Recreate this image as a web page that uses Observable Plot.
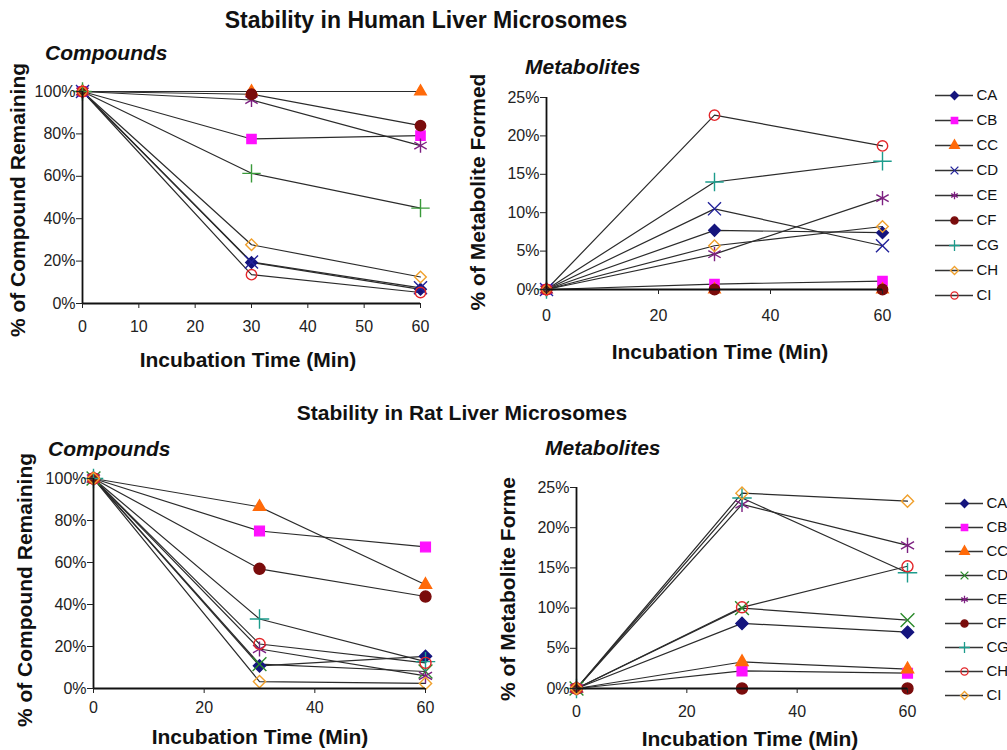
<!DOCTYPE html>
<html><head><meta charset="utf-8">
<script src="https://cdn.jsdelivr.net/npm/d3@7"></script>
<script src="https://cdn.jsdelivr.net/npm/@observablehq/plot@0.6"></script>
<style>
body{margin:0;background:#fff;overflow:hidden;}
#fig{position:relative;width:1007px;height:750px;overflow:hidden;font-family:"Liberation Sans",Arial,sans-serif;color:#111;}
.t{position:absolute;white-space:nowrap;transform:translate(-50%,-50%);font-weight:bold;}
.l{position:absolute;white-space:nowrap;transform:translate(0,-50%);font-weight:bold;font-style:italic;}
.r{position:absolute;white-space:nowrap;transform:translate(-50%,-50%) rotate(-90deg);font-weight:bold;}
</style></head><body><div id="fig"></div>
<script>
// ---------- data ----------
const series = ["CA","CB","CC","CD","CE","CF","CG","CH","CI"];
const times = [0, 30, 60];

// Human liver microsomes: % of compound remaining
const humanCmp0  = [100, 100, 100, 100, 100, 100, 100, 100, 100];
const humanCmp30 = [19.3, 77.6, 100, 19.6, 96, 98.7, 61.4, 27.7, 13.6];
const humanCmp60 = [6.7, 79.2, 100, 7.4, 74.5, 83.9, 45, 12.5, 5.2];
// Human liver microsomes: % of metabolite formed
const humanMet0  = [0, 0, 0, 0, 0, 0, 0, 0, 0];
const humanMet30 = [7.7, 0.7, 0, 10.5, 4.6, 0, 14.0, 5.7, 22.7];
const humanMet60 = [7.4, 1.1, 0, 5.7, 11.9, 0, 16.7, 8.2, 18.7];
// Rat liver microsomes: % of compound remaining
const ratCmp0  = [100, 100, 100, 100, 100, 100, 100, 100, 100];
const ratCmp30 = [10.8, 75, 86.5, 11.6, 18.8, 57, 33.1, 21.2, 3.3];
const ratCmp60 = [15.3, 67.4, 49.4, 8.1, 6, 43.8, 12.8, 12.2, 2.4];
// Rat liver microsomes: % of metabolite formed
const ratMet0  = [0, 0, 0, 0, 0, 0, 0, 0, 0];
const ratMet30 = [8.1, 2.2, 3.3, 10.0, 22.9, 0, 23.7, 10.1, 24.3];
const ratMet60 = [7.0, 1.9, 2.4, 8.5, 17.8, 0, 14.4, 15.2, 23.3];

const xTicksTL = [0, 10, 20, 30, 40, 50, 60];
const xTicks = [0, 20, 40, 60];
const yTicksCmp = [0, 20, 40, 60, 80, 100];
const yTicksMet = [0, 5, 10, 15, 20, 25];

// marker styles
const humanSymbols = ["diamond2","square","triangle","times","asterisk","circle","plus","diamond2","circle"];
const ratSymbols   = ["diamond2","square","triangle","times","asterisk","circle","plus","circle","diamond2"];
const humanFilled  = [true, true, true, false, false, true, false, false, false];
const ratFilled    = [true, true, true, false, false, true, false, false, false];
const humanColors  = ["#15157e","#ff10ff","#ff6a0a","#22229a","#7d2081","#7a0c0c","#1c9c8c","#f0a02c","#e3262a"];
const humanCmpColors = ["#15157e","#ff10ff","#ff6a0a","#22229a","#7d2081","#7a0c0c","#3a9a3a","#f0a02c","#e3262a"];
const ratColors    = ["#15157e","#ff10ff","#ff6a0a","#2b8a2b","#7d2081","#7a0c0c","#1c9c8c","#e3262a","#f0a02c"];
const symbolScale = {diamond2: 1, square: 1, triangle: 0.82, times: 1.15, asterisk: 1.3, circle: 1, plus: 1.15};

// ---------- drawing ----------
const fig = document.getElementById("fig");

function place(el, left, top) {
  el.style.position = "absolute";
  el.style.left = left + "px";
  el.style.top = top + "px";
  fig.appendChild(el);
}

function panel(c) {
  const rows = [];
  series.forEach((s, i) => c.vals.forEach((arr, j) => rows.push({series: s, t: times[j], v: arr[i]})));
  const marks = [
    Plot.line(rows, {x: "t", y: "v", z: "series", stroke: "#2b2b2b", strokeWidth: 1.2}),
  ];
  series.forEach((s, i) => {
    marks.push(Plot.dot(rows.filter(d => d.series === s), {
      x: "t", y: "v", symbol: c.sym[i], r: c.r * symbolScale[c.sym[i]],
      fill: c.filled[i] ? c.col[i] : "none", stroke: c.col[i], strokeWidth: 1.4
    }));
  });
  marks.push(
    Plot.ruleY([0], {stroke: "#111", strokeWidth: 1.8}),
    Plot.ruleX([0], {stroke: "#111", strokeWidth: 1.8}),
    Plot.axisX({ticks: c.xTicks, tickSize: 5, tickPadding: c.xPad, label: null, tickFormat: d => d}),
    Plot.axisY({ticks: c.yTicks, tickSize: 6, tickPadding: 1, label: null, tickFormat: d => d + "%"})
  );
  const svg = Plot.plot({
    width: c.width, height: c.height,
    marginLeft: c.mL, marginRight: c.mR, marginTop: c.mT, marginBottom: c.mB,
    x: {domain: [0, 60]},
    y: {domain: c.yDomain},
    style: {fontFamily: "Liberation Sans, Arial, sans-serif", fontSize: "16px", color: "#222", background: "transparent", overflow: "visible"},
    marks
  });
  place(svg, c.left, c.top);
}

function legend(c) {
  const rows = series.map((s, i) => ({s, i}));
  const marks = [
    Plot.ruleY(rows, {y: "s", x1: 0, x2: 1, stroke: "#333", strokeWidth: 1.4})
  ];
  series.forEach((s, i) => {
    marks.push(Plot.dot(rows.filter(d => d.s === s), {
      y: "s", x: 0.5, symbol: c.sym[i], r: 3.6,
      fill: c.filled[i] ? c.col[i] : "none", stroke: c.col[i], strokeWidth: 1.3
    }));
  });
  marks.push(Plot.text(rows, {y: "s", x: 1, text: "s", textAnchor: "start", dx: 3, fill: "#111"}));
  const svg = Plot.plot({
    width: c.width, height: c.height,
    marginLeft: c.mL, marginRight: c.mR, marginTop: c.mT, marginBottom: c.mB,
    x: {domain: [0, 1], axis: null},
    y: {type: "point", domain: series, padding: 0, axis: null},
    style: {fontFamily: "Liberation Sans, Arial, sans-serif", fontSize: "15px", color: "#111", background: "transparent", overflow: "visible"},
    marks
  });
  place(svg, c.left, c.top);
}

function text(cls, str, x, y, size) {
  const d = document.createElement("div");
  d.className = cls;
  d.textContent = str;
  d.style.fontSize = size + "px";
  place(d, x, y);
}

// Human - compounds
panel({vals: [humanCmp0, humanCmp30, humanCmp60], xTicks: xTicksTL, yTicks: yTicksCmp, yDomain: [0, 100],
  sym: humanSymbols, filled: humanFilled, col: humanCmpColors, r: 5.2, xPad: 12,
  left: 0, top: 70, width: 440, height: 268, mL: 82, mR: 20, mT: 21, mB: 35});
// Human - metabolites
panel({vals: [humanMet0, humanMet30, humanMet60], xTicks, yTicks: yTicksMet, yDomain: [0, 25],
  sym: humanSymbols, filled: humanFilled, col: humanColors, r: 5.2, xPad: 15,
  left: 480, top: 76, width: 422, height: 248, mL: 66, mR: 20, mT: 21, mB: 35});
// Rat - compounds
panel({vals: [ratCmp0, ratCmp30, ratCmp60], xTicks, yTicks: yTicksCmp, yDomain: [0, 100],
  sym: ratSymbols, filled: ratFilled, col: ratColors, r: 5.5, xPad: 8,
  left: 0, top: 458, width: 445, height: 260, mL: 93, mR: 20, mT: 20, mB: 30});
// Rat - metabolites
panel({vals: [ratMet0, ratMet30, ratMet60], xTicks, yTicks: yTicksMet, yDomain: [0, 25],
  sym: ratSymbols, filled: ratFilled, col: ratColors, r: 5.5, xPad: 12,
  left: 500, top: 467, width: 427, height: 251, mL: 76, mR: 20, mT: 20, mB: 30});

legend({sym: humanSymbols, filled: humanFilled, col: humanColors,
  left: 925, top: 75, width: 82, height: 240, mL: 10, mR: 34, mT: 18, mB: 18});
legend({sym: ratSymbols, filled: ratFilled, col: ratColors,
  left: 925, top: 485, width: 82, height: 230, mL: 20, mR: 24, mT: 18, mB: 20});

// titles & labels
text("t", "Stability in Human Liver Microsomes", 426, 20, 23);
text("t", "Stability in Rat Liver Microsomes", 462, 413, 21);
text("l", "Compounds", 45, 53, 21);
text("l", "Metabolites", 525, 67, 21);
text("l", "Compounds", 48, 449, 21);
text("l", "Metabolites", 545, 448, 21);
text("r", "% of Compound Remaining", 18, 200, 21);
text("r", "% of Metabolite Formed", 478, 192, 21);
text("r", "% of Compound Remaining", 25, 590, 21);
text("r", "% of Metabolite Forme", 508, 589, 21);
text("t", "Incubation Time (Min)", 248, 360, 21);
text("t", "Incubation Time (Min)", 720, 352, 21);
text("t", "Incubation Time (Min)", 260, 737, 21);
text("t", "Incubation Time (Min)", 750, 739, 21);
</script></body></html>
